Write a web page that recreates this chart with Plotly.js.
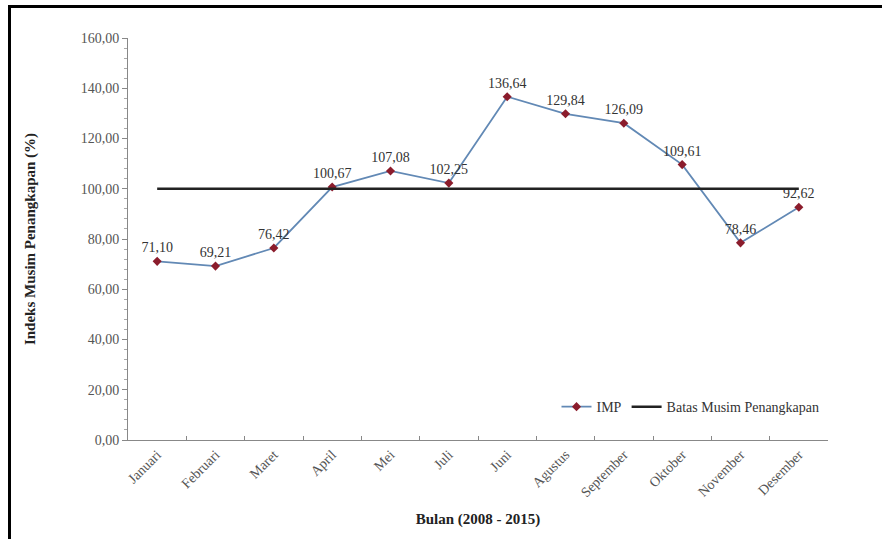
<!DOCTYPE html>
<html>
<head>
<meta charset="utf-8">
<script src="https://cdn.plot.ly/plotly-3.0.1.min.js"></script>
<style>
  html, body { margin: 0; padding: 0; background: #fff; }
  #chart { width: 882px; height: 539px; }
</style>
</head>
<body>
<div id="chart"></div>
<script>
const months = ["Januari","Februari","Maret","April","Mei","Juli","Juni","Agustus","September","Oktober","November","Desember"];
const imp = [71.10, 69.21, 76.42, 100.67, 107.08, 102.25, 136.64, 129.84, 126.09, 109.61, 78.46, 92.62];
const batas = [100,100,100,100,100,100,100,100,100,100,100,100];

const serif = '"Liberation Serif", "Times New Roman", serif';

const traces = [
  {
    x: months, y: imp, name: "IMP", type: "scatter", mode: "lines+markers+text",
    line: {color: "#6289b5", width: 1.8},
    marker: {symbol: "diamond", size: 7, color: "#8b1c2c"},
    texttemplate: "%{y:.2f}", textposition: "top center",
    textfont: {family: serif, size: 14, color: "#333"},
    cliponaxis: false
  },
  {
    x: months, y: batas, name: "Batas Musim Penangkapan", type: "scatter", mode: "lines",
    line: {color: "#222", width: 2.5}
  }
];

const layout = {
  width: 882, height: 539,
  margin: {l: 128, r: 54, t: 38, b: 99},
  paper_bgcolor: "#fff", plot_bgcolor: "#fff",
  separators: ",.",
  font: {family: serif, color: "#444"},
  showlegend: true,
  legend: {orientation: "h", x: 0.995, xanchor: "right", y: 0.082, yanchor: "middle",
           font: {family: serif, size: 14, color: "#333"}, bgcolor: "rgba(0,0,0,0)",
           traceorder: "normal", itemwidth: 30},
  xaxis: {
    type: "category", range: [-0.5, 11.5],
    showline: true, linecolor: "#888", linewidth: 1,
    showgrid: false, zeroline: false,
    ticks: "inside", ticklen: 4, tickcolor: "#888", tickson: "boundaries",
    tickangle: -45, tickfont: {family: serif, size: 14, color: "#555"},
    title: {text: "<b>Bulan (2008 - 2015)</b>", font: {family: serif, size: 15, color: "#222"}, standoff: 14}
  },
  yaxis: {
    range: [0, 160], dtick: 20, tickformat: ".2f",
    showline: true, linecolor: "#888", linewidth: 1,
    showgrid: false, zeroline: false,
    ticks: "outside", ticklen: 5, tickcolor: "#888",
    minor: {dtick: 4, ticks: "outside", ticklen: 3, tickcolor: "#aaa"},
    tickfont: {family: serif, size: 14, color: "#555"},
    title: {text: "<b>Indeks Musim Penangkapan (%)</b>", font: {family: serif, size: 15, color: "#222"}, standoff: 41}
  },
  shapes: [
    {type: "line", xref: "paper", yref: "paper", x0: (8 - 128)/700, x1: (882 - 128)/700,
     y0: (440 - 6.5)/402, y1: (440 - 6.5)/402, line: {color: "#000", width: 3}},
    {type: "line", xref: "paper", yref: "paper", x0: (9.5 - 128)/700, x1: (9.5 - 128)/700,
     y0: (440 - 5)/402, y1: (440 - 545)/402, line: {color: "#000", width: 3}}
  ]
};

Plotly.newPlot("chart", traces, layout, {displayModeBar: false, staticPlot: true});
</script>
</body>
</html>
